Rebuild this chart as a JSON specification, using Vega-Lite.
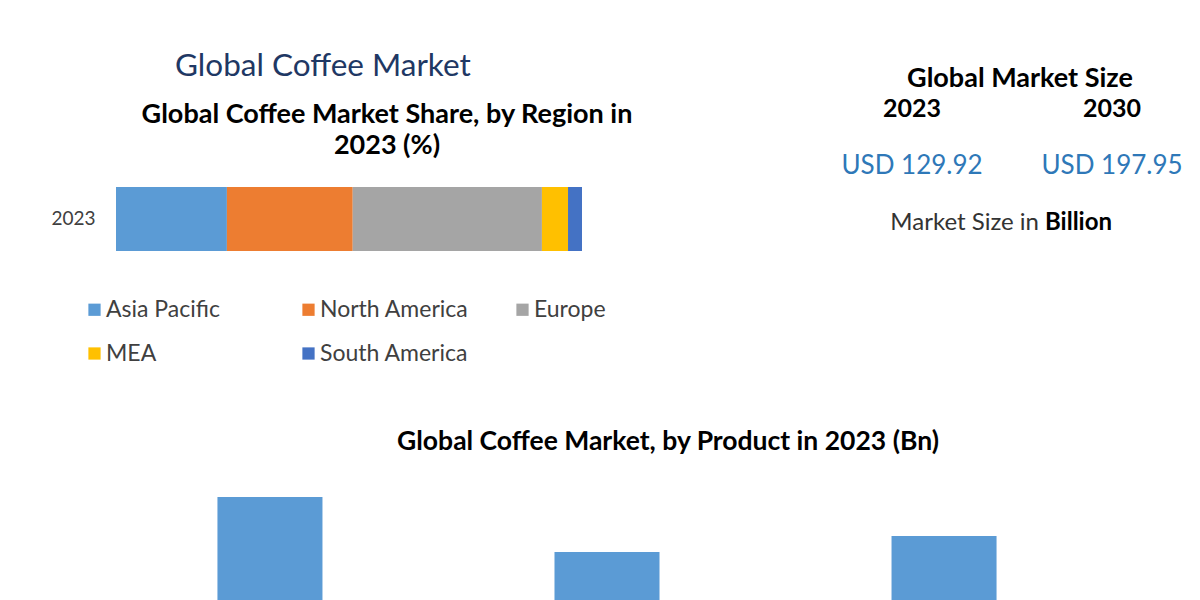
{
  "$schema": "https://vega.github.io/schema/vega-lite/v6.json",
  "background": "white",
  "padding": {"top": 50, "left": 50, "right": 0, "bottom": 0},
  "autosize": {"type": "pad"},
  "config": {"view": {"stroke": null}, "font": "Lato"},
  "title": {"text": "Global Coffee Market", "anchor": "start", "frame": "group", "dx": 59, "offset": -17, "fontSize": 31.5, "fontWeight": "normal", "color": "#1F3864"},
  "bounds": "flush",
  "spacing": 368,
  "vconcat": [
    {
      "bounds": "flush",
      "spacing": 280,
      "hconcat": [
        {
          "width": 466,
          "height": 158,
          "title": {"text": ["Global Coffee Market Share, by Region in", "2023 (%)"], "fontSize": 27, "fontWeight": "bold", "color": "#000000", "dx": 38, "lineHeight": 31, "offset": -67, "anchor": "middle"},
          "data": {"values": [
            {"year": "2023", "region": "Asia Pacific", "rank": 1, "share": 23.8},
            {"year": "2023", "region": "North America", "rank": 2, "share": 27.0},
            {"year": "2023", "region": "Europe", "rank": 3, "share": 40.6},
            {"year": "2023", "region": "MEA", "rank": 4, "share": 5.6},
            {"year": "2023", "region": "South America", "rank": 5, "share": 3.0}
          ]},
          "mark": {"type": "bar"},
          "encoding": {
            "y": {"field": "year", "type": "nominal", "scale": {"paddingOuter": 0.734, "paddingInner": 0, "align": 1}, "axis": {"title": null, "ticks": false, "domain": false, "labelFontSize": 19, "labelColor": "#404040", "labelPadding": 21}},
            "x": {"field": "share", "type": "quantitative", "stack": "zero", "scale": {"domain": [0, 100], "nice": false}, "axis": null},
            "order": {"field": "rank", "type": "quantitative"},
            "color": {
              "field": "region", "type": "nominal",
              "sort": ["Asia Pacific", "North America", "Europe", "MEA", "South America"],
              "scale": {"domain": ["Asia Pacific", "North America", "Europe", "MEA", "South America"], "range": ["#5B9BD5", "#ED7D31", "#A5A5A5", "#FFC000", "#4472C4"]},
              "legend": {"title": null, "orient": "none", "legendX": -33, "legendY": 205, "padding": 0, "direction": "horizontal", "columns": 3, "gridAlign": "all", "columnPadding": 42, "rowPadding": 20, "symbolType": "square", "symbolSize": 150, "labelFontSize": 23, "labelColor": "#404040", "labelOffset": 0, "symbolStrokeWidth": 0}
            }
          }
        },
        {
          "width": 300,
          "height": 150,
          "title": {"text": "Global Market Size", "fontSize": 27, "fontWeight": "bold", "color": "#000000", "dx": 8, "offset": 0},
          "layer": [
            {
              "data": {"values": [{"year": "2023", "size": "USD 129.92"}, {"year": "2030", "size": "USD 197.95"}]},
              "mark": {"type": "text", "fontSize": 25, "fontWeight": "bold", "color": "#000000"},
              "encoding": {
                "x": {"field": "year", "type": "ordinal", "scale": {"type": "point", "padding": 0.25}, "axis": null},
                "y": {"datum": "year", "type": "ordinal", "scale": {"type": "point", "domain": ["year", "size", "note"], "padding": 0.316, "align": 0.444}, "axis": null},
                "text": {"field": "year"}
              }
            },
            {
              "data": {"values": [{"year": "2023", "size": "USD 129.92"}, {"year": "2030", "size": "USD 197.95"}]},
              "mark": {"type": "text", "fontSize": 26, "color": "#2E78B8"},
              "encoding": {
                "x": {"field": "year", "type": "ordinal", "axis": null},
                "y": {"datum": "size", "type": "ordinal", "axis": null},
                "text": {"field": "size"}
              }
            },
            {
              "data": {"values": [{"label": "Market Size in"}]},
              "mark": {"type": "text", "fontSize": 24, "color": "#333333", "align": "right", "dx": 27},
              "encoding": {
                "y": {"datum": "note", "type": "ordinal", "axis": null},
                "text": {"field": "label"}
              }
            },
            {
              "data": {"values": [{"label": "Billion"}]},
              "mark": {"type": "text", "fontSize": 24, "fontWeight": "bold", "color": "#000000", "align": "left", "dx": 33},
              "encoding": {
                "y": {"datum": "note", "type": "ordinal", "axis": null},
                "text": {"field": "label"}
              }
            }
          ]
        }
      ]
    },
    {
      "width": 982,
      "height": 140,
      "title": {"text": "Global Coffee Market, by Product in 2023 (Bn)", "fontSize": 26.5, "fontWeight": "bold", "color": "#000000", "dx": 61, "offset": 6},
      "data": {"values": [
        {"product": "Whole Bean", "value": 40.1},
        {"product": "Ground Coffee", "value": 18.9},
        {"product": "Instant Coffee", "value": 25.1}
      ]},
      "mark": {"type": "bar", "color": "#5B9BD5"},
      "encoding": {
        "x": {"field": "product", "type": "nominal", "sort": null, "scale": {"paddingInner": 0.6884, "paddingOuter": 0.301}, "axis": null},
        "y": {"field": "value", "type": "quantitative", "scale": {"domain": [0, 54], "nice": false}, "axis": null}
      }
    }
  ]
}
